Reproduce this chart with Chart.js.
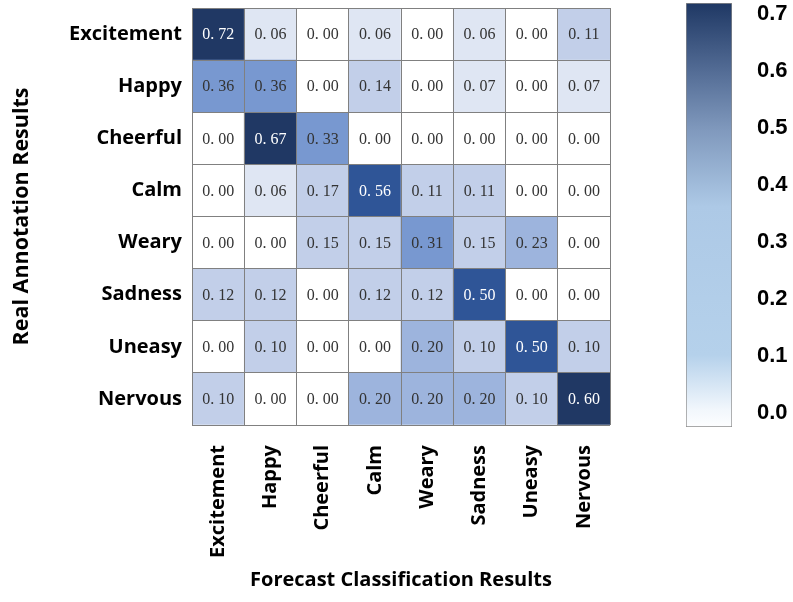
<!DOCTYPE html>
<html>
<head>
<meta charset="utf-8">
<script src="https://cdn.jsdelivr.net/npm/chart.js@4"></script>
<style>
  body { margin: 0; background: #fff; }
  #main { position: absolute; left: 0; top: 0; width: 793px; height: 602px; }
  #bar { position: absolute; left: 660px; top: 0; width: 133px; height: 602px; }
</style>
</head>
<body>
<div id="main"><canvas id="G1"></canvas></div>
<div id="bar"><canvas id="G2"></canvas></div>
<script>
const rows = ['Excitement', 'Happy', 'Cheerful', 'Calm', 'Weary', 'Sadness', 'Uneasy', 'Nervous'];
const cols = ['Excitement', 'Happy', 'Cheerful', 'Calm', 'Weary', 'Sadness', 'Uneasy', 'Nervous'];
const excitement = [0.72, 0.06, 0.00, 0.06, 0.00, 0.06, 0.00, 0.11];
const happy      = [0.36, 0.36, 0.00, 0.14, 0.00, 0.07, 0.00, 0.07];
const cheerful   = [0.00, 0.67, 0.33, 0.00, 0.00, 0.00, 0.00, 0.00];
const calm       = [0.00, 0.06, 0.17, 0.56, 0.11, 0.11, 0.00, 0.00];
const weary      = [0.00, 0.00, 0.15, 0.15, 0.31, 0.15, 0.23, 0.00];
const sadness    = [0.12, 0.12, 0.00, 0.12, 0.12, 0.50, 0.00, 0.00];
const uneasy     = [0.00, 0.10, 0.00, 0.00, 0.20, 0.10, 0.50, 0.10];
const nervous    = [0.10, 0.00, 0.00, 0.20, 0.20, 0.20, 0.10, 0.60];
const matrix = [excitement, happy, cheerful, calm, weary, sadness, uneasy, nervous];
const scaleTicks = [0, 0.1, 0.2, 0.3, 0.4, 0.5, 0.6, 0.7];
const barRange = [-0.025, 0.72];

function shade(v) {
    if (v <= 0) return '#ffffff';
    if (v < 0.1) return '#dfe6f3';
    if (v < 0.2) return '#c2cfe9';
    if (v < 0.3) return '#9db4dd';
    if (v < 0.45) return '#7898d0';
    if (v < 0.58) return '#2f5597';
    return '#203864';
}

// bottom row first so the stack puts Excitement on top
const datasets = [];
for (let r = rows.length - 1; r >= 0; r--) {
    datasets.push({
        label: rows[r],
        values: matrix[r],
        data: cols.map(() => 1),
        backgroundColor: matrix[r].map(shade),
        borderWidth: 0,
        barPercentage: 1,
        categoryPercentage: 1
    });
}

const cellText = {
    id: 'cellText',
    afterDraw(chart) {
        const ctx = chart.ctx;
        ctx.save();
        ctx.font = '16px "Liberation Serif", serif';
        ctx.textAlign = 'center';
        ctx.textBaseline = 'middle';
        chart.data.datasets.forEach((ds, di) => {
            chart.getDatasetMeta(di).data.forEach((bar, i) => {
                const v = ds.values[i];
                ctx.fillStyle = v >= 0.45 ? '#ffffff' : '#333333';
                ctx.fillText(v.toFixed(2).replace('.', '. '), bar.x, (bar.y + bar.base) / 2 + 1);
            });
        });
        ctx.restore();
    }
};

const labelFont = { family: '"Open Sans", sans-serif', size: 20, weight: 'bold' };

new Chart(document.getElementById('G1'), {
    type: 'bar',
    data: { labels: cols, datasets: datasets },
    options: {
        responsive: true,
        maintainAspectRatio: false,
        animation: false,
        layout: { padding: { top: 8, right: 183, left: 0, bottom: 0 } },
        plugins: { legend: { display: false }, tooltip: { enabled: false } },
        scales: {
            x: {
                stacked: true,
                grid: { color: '#808080', drawTicks: false, z: 1 },
                border: { display: false },
                ticks: { color: '#000', font: labelFont, maxRotation: 90, minRotation: 90, padding: 20, autoSkip: false },
                title: { display: true, text: 'Forecast Classification Results', color: '#000', font: labelFont, padding: { top: 0, bottom: 10 } },
                afterFit: s => { s.height = 177; s.paddingLeft = 0; s.paddingRight = 0; }
            },
            y: {
                stacked: true,
                min: 0,
                max: 8,
                grid: {
                    color: c => Number.isInteger(c.tick.value) ? '#808080' : 'rgba(0,0,0,0)',
                    drawTicks: false,
                    z: 1
                },
                border: { display: false },
                ticks: {
                    stepSize: 0.5,
                    autoSkip: false,
                    color: '#000',
                    font: labelFont,
                    padding: 10,
                    callback: v => Number.isInteger(v) ? '' : rows[7 - Math.floor(v)]
                },
                title: { display: true, text: 'Real Annotation Results', color: '#000', font: { family: '"Open Sans", sans-serif', size: 21.5, weight: 'bold' }, padding: { top: 9, bottom: 0 } },
                afterFit: s => { s.width = 192; s.paddingTop = 0; s.paddingBottom = 0; }
            }
        }
    },
    plugins: [cellText]
});

new Chart(document.getElementById('G2'), {
    type: 'bar',
    data: {
        labels: [''],
        datasets: [{
            data: [barRange],
            backgroundColor: c => {
                const a = c.chart.chartArea;
                if (!a) return null;
                const g = c.chart.ctx.createLinearGradient(0, a.bottom, 0, a.top);
                g.addColorStop(0, '#fdfeff');
                g.addColorStop(0.04, '#f2f7fc');
                g.addColorStop(0.17, '#b5d1eb');
                g.addColorStop(0.52, '#adc9e6');
                g.addColorStop(0.70, '#8099bd');
                g.addColorStop(0.84, '#536c95');
                g.addColorStop(1, '#1f3864');
                return g;
            },
            borderColor: '#8c8c8c',
            borderWidth: 1,
            borderSkipped: false,
            barPercentage: 1,
            categoryPercentage: 1
        }]
    },
    options: {
        responsive: true,
        maintainAspectRatio: false,
        animation: false,
        layout: { padding: { top: 3, left: 26, bottom: 175, right: 0 } },
        plugins: { legend: { display: false }, tooltip: { enabled: false } },
        scales: {
            x: { display: false },
            y: {
                position: 'right',
                min: barRange[0],
                max: barRange[1],
                afterBuildTicks: s => { s.ticks = scaleTicks.map(v => ({ value: v })); },
                grid: { display: false, drawTicks: false },
                border: { display: false },
                ticks: {
                    color: '#000',
                    padding: 25,
                    font: { family: '"Liberation Sans", sans-serif', size: 22, weight: 'bold' },
                    callback: v => v.toFixed(1)
                },
                afterFit: s => { s.width = 61; s.paddingTop = 0; s.paddingBottom = 0; }
            }
        }
    }
});
</script>
</body>
</html>
